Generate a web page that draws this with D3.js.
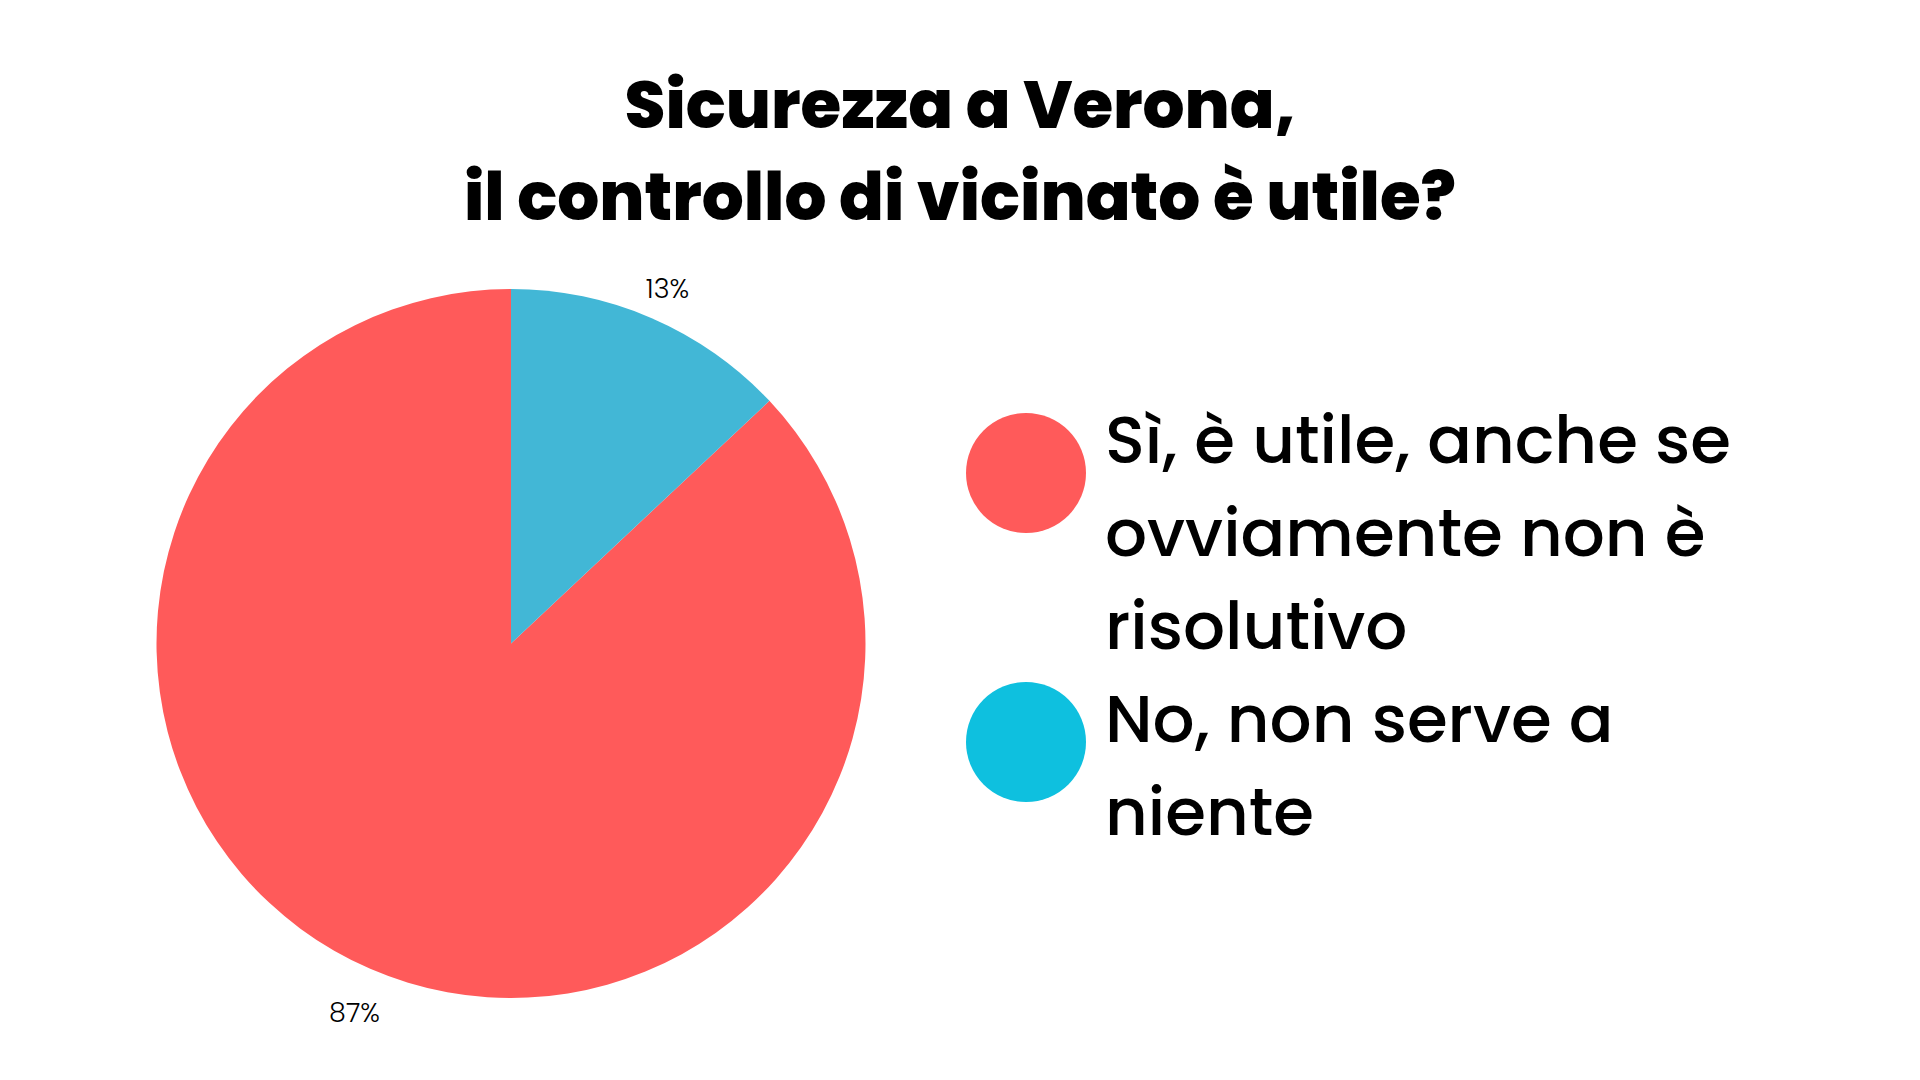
<!DOCTYPE html>
<html>
<head>
<meta charset="utf-8">
<script src="https://cdn.jsdelivr.net/npm/d3@7"></script>
<style>
  html, body { margin: 0; padding: 0; background: #fff; }
  svg { display: block; }
</style>
</head>
<body>
<div id="chart"></div>
<script>
// data
const titleLines = ["Sicurezza a Verona,", "il controllo di vicinato è utile?"];
const categories = ["Sì, è utile, anche se ovviamente non è risolutivo", "No, non serve a niente"];
const legendLines = [["Sì, è utile, anche se", "ovviamente non è", "risolutivo"], ["No, non serve a", "niente"]];
const values = [87, 13];
const sliceColors = ["#ff5a5a", "#42b7d6"];
const legendColors = ["#ff5a5a", "#0ec0df"];

const width = 1920, height = 1080;
const cx = 511, cy = 643.5, radius = 354.5;

const svg = d3.select("#chart")
    .append("svg")
    .attr("width", width)
    .attr("height", height);

svg.append("rect")
    .attr("width", width)
    .attr("height", height)
    .attr("fill", "white");

// title
svg.append("g")
    .selectAll("text")
    .data(titleLines)
    .join("text")
    .attr("x", 960)
    .attr("y", (d, i) => 128 + i * 92)
    .attr("text-anchor", "middle")
    .attr("font-family", "Poppins, Inter, sans-serif")
    .attr("font-weight", 800)
    .attr("font-size", 66)
    .attr("fill", "#000")
    .text(d => d);

const data = categories.map((c, i) => ({name: c, value: values[i], color: sliceColors[i]}));

// smallest slice first, starting at twelve o'clock
const pie = d3.pie()
    .value(d => d.value)
    .sort((a, b) => a.value - b.value);

const arc = d3.arc().innerRadius(0).outerRadius(radius);
const labelArc = d3.arc().innerRadius(394).outerRadius(394);

const pieG = svg.append("g")
    .attr("transform", `translate(${cx},${cy})`);

const arcs = pie(data);

pieG.selectAll("path")
    .data(arcs)
    .join("path")
    .attr("d", arc)
    .attr("fill", d => d.data.color);

pieG.selectAll("text")
    .data(arcs)
    .join("text")
    .attr("transform", d => `translate(${labelArc.centroid(d)})`)
    .attr("dy", 7)
    .attr("text-anchor", "middle")
    .attr("dominant-baseline", "central")
    .attr("font-family", "Poppins, Inter, sans-serif")
    .attr("font-weight", 300)
    .attr("font-size", 27)
    .attr("fill", "#000")
    .text(d => d.data.value + "%");

// legend
const lineHeight = 93;
const legendTop = 463;
let row = 0;
const legend = svg.append("g");

legendLines.forEach((lines, i) => {
    const base = legendTop + row * lineHeight;
    const item = legend.append("g");
    item.append("circle")
        .attr("cx", 1026)
        .attr("cy", base + (i === 0 ? 10 : 0))
        .attr("r", 60)
        .attr("fill", legendColors[i]);
    item.selectAll("text")
        .data(lines)
        .join("text")
        .attr("x", 1105)
        .attr("y", (d, j) => base + j * lineHeight)
        .attr("font-family", "Poppins, Inter, sans-serif")
        .attr("font-weight", 500)
        .attr("font-size", 66)
        .attr("fill", "#000")
        .text(d => d);
    row += lines.length;
});
</script>
</body>
</html>
